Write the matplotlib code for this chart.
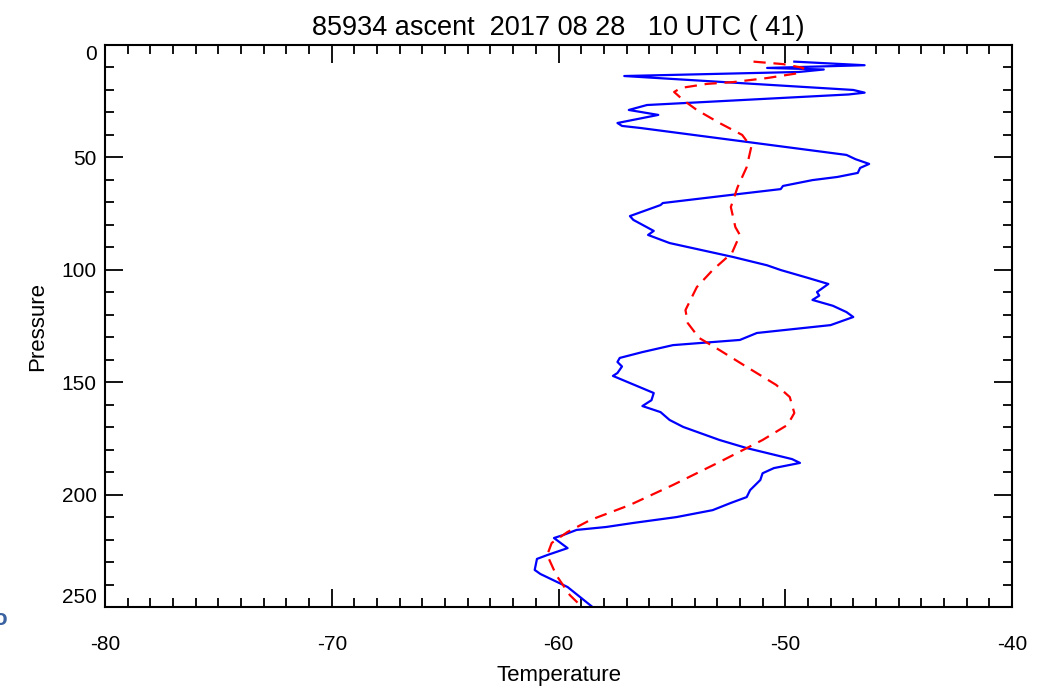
import numpy as np
import matplotlib
matplotlib.use('Agg')
import matplotlib.pyplot as plt
from matplotlib.ticker import MultipleLocator

plt.rcParams['font.family'] = ['Liberation Sans', 'DejaVu Sans']
plt.rcParams['axes.unicode_minus'] = False

# observed profile (blue, solid)
obs_temp = [-49.6, -46.5, -50.8, -48.3, -49.4, -57.1, -47.0, -46.5, -47.2, -56.1,
            -56.9, -55.6, -56.3, -57.4, -57.2, -56.4, -47.3, -46.9, -46.3, -46.7,
            -46.8, -47.7, -48.8, -50.1, -50.2, -52.4, -55.4, -55.5, -56.85, -56.7,
            -55.8, -56.05, -55.1, -52.3, -50.8, -50.2, -49.0, -48.1, -48.6, -48.5,
            -48.8, -47.9, -47.3, -47.0, -48.0, -51.25, -52.0, -54.95, -56.3, -57.3,
            -57.4, -57.2, -57.4, -57.6, -55.8, -55.9, -56.3, -55.5, -55.1, -54.5,
            -52.9, -51.7, -49.7, -49.35, -50.5, -51.0, -51.1, -51.55, -51.7, -52.4,
            -53.2, -54.8, -56.7, -57.9, -59.2, -59.8, -60.2, -59.6, -60.5, -60.95,
            -61.05, -60.8, -59.6, -58.5]
obs_pres = [7.4, 9.0, 10.2, 10.9, 12.0, 13.8, 20.0, 21.2, 22.0, 26.7,
            28.9, 31.1, 32.5, 34.7, 36.0, 36.9, 48.9, 50.8, 52.9, 54.7,
            56.9, 58.7, 60.1, 62.7, 64.1, 66.7, 70.3, 71.2, 76.1, 77.8,
            82.7, 84.5, 88.1, 94.3, 98.0, 100.1, 103.6, 106.3, 109.9, 111.5,
            113.4, 116.0, 118.8, 121.0, 124.6, 128.1, 131.2, 133.5, 136.6, 139.2,
            141.0, 143.0, 145.9, 147.2, 154.8, 158.0, 160.6, 163.3, 166.8, 169.9,
            175.7, 179.3, 184.2, 185.9, 188.2, 190.5, 193.5, 198.0, 201.1, 203.7,
            206.9, 210.0, 212.6, 214.4, 215.7, 218.0, 219.3, 223.8, 226.9, 228.6,
            233.5, 235.3, 241.1, 250.0]

# reference profile (red, dashed)
ref_temp = [-51.4, -50.1, -49.2, -49.4, -50.8, -52.3, -53.45, -54.6, -54.9, -54.5,
            -53.9, -52.9, -51.9, -51.5, -51.7, -52.1, -52.4, -52.2, -52.0, -52.35,
            -53.2, -53.9, -54.4, -54.3, -53.8, -52.9, -51.7, -50.4, -49.8, -49.6,
            -49.9, -51.0, -52.9, -54.95, -56.85, -58.6, -59.6, -60.3, -60.5, -60.1,
            -59.5, -58.96]
ref_pres = [7.4, 8.5, 10.2, 12.5, 14.7, 16.5, 17.3, 19.1, 20.9, 24.5,
            28.9, 34.7, 40.0, 45.4, 54.3, 63.2, 72.1, 81.0, 84.5, 92.5,
            100.1, 107.7, 117.9, 123.7, 130.3, 135.7, 143.2, 151.2, 156.6, 163.7,
            169.0, 175.7, 185.5, 195.7, 204.6, 211.3, 216.6, 221.5, 226.9, 235.8,
            244.7, 250.0]

x_ticks = [-80, -70, -60, -50, -40]
y_ticks = [0, 50, 100, 150, 200, 250]

fig = plt.figure(figsize=(10.61, 6.88), dpi=100)
ax = fig.add_axes([0.099, 0.1177, 0.8548, 0.8169])

ax.plot(obs_temp, obs_pres, color='#0000ff', lw=1.6, zorder=2)
ax.plot(ref_temp, ref_pres, color='#ff0000', lw=1.6, ls=(0, (5.5, 3.5)), zorder=3)

ax.set_xlim(-80, -40)
ax.set_ylim(250, 0)
ax.set_xticks(x_ticks)
ax.set_yticks(y_ticks)
ax.xaxis.set_minor_locator(MultipleLocator(1))
ax.yaxis.set_minor_locator(MultipleLocator(10))

ax.tick_params(which='both', direction='in', top=True, right=True, width=1.3, labelsize=15)
ax.tick_params(which='major', length=13)
ax.tick_params(which='minor', length=6.5)
ax.tick_params(axis='x', pad=20)
ax.tick_params(axis='y', pad=6)
for s in ax.spines.values():
    s.set_linewidth(1.5)

ylabs = ax.get_yticklabels()
ylabs[0].set_va('top')
ylabs[-1].set_va('bottom')

ax.set_xlabel('Temperature', fontsize=16, labelpad=8)
ax.set_ylabel('Pressure', fontsize=16, labelpad=10)
ax.set_title('85934 ascent  2017 08 28   10 UTC ( 41)', fontsize=19.5, pad=7)

# clipped glyph at the left border of the screenshot
fig.text(0.0, 0.099, 'o', color='#3a62a0', fontsize=16, fontweight='bold',
         ha='center', va='center', clip_on=False)

fig.savefig('out.png', dpi=100)
